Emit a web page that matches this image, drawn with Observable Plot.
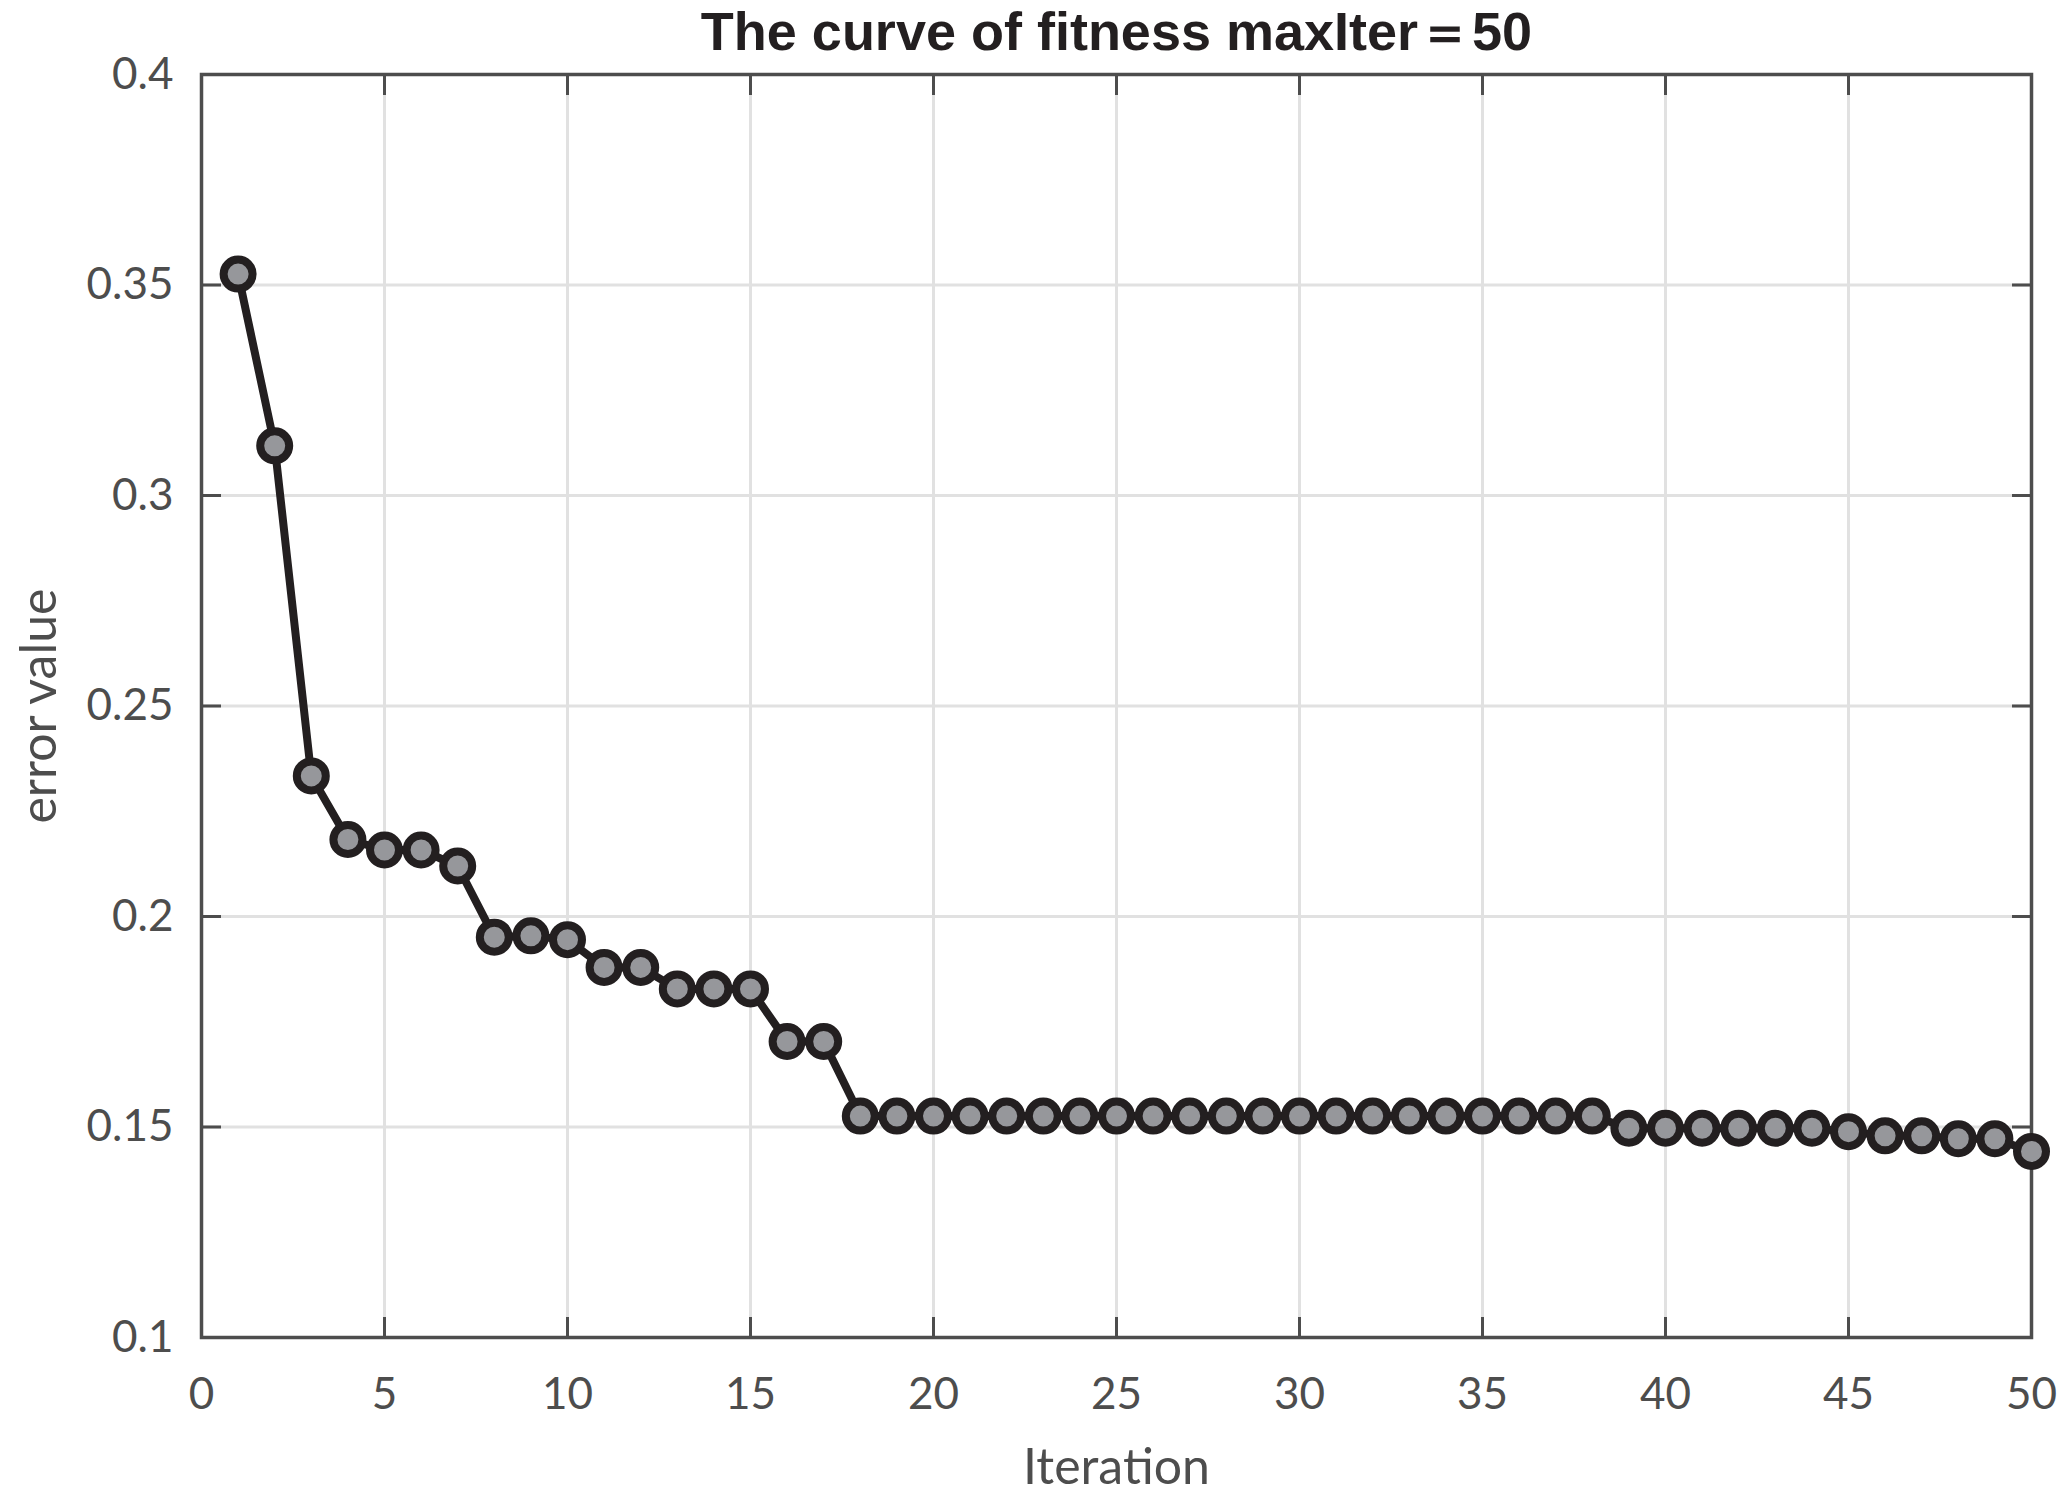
<!DOCTYPE html>
<html>
<head>
<meta charset="utf-8">
<script src="https://cdn.jsdelivr.net/npm/d3@7"></script>
<script src="https://cdn.jsdelivr.net/npm/@observablehq/plot@0.6"></script>
<style>
  html, body { margin: 0; padding: 0; background: #fff; }
  #chart svg { display: block; }
</style>
</head>
<body>
<div id="chart"></div>
<script>
const titleText = "The curve of fitness maxIter＝50";
const xLabel = "Iteration";
const yLabel = "error value";

const iterations = [1,2,3,4,5,6,7,8,9,10,11,12,13,14,15,16,17,18,19,20,21,22,23,24,25,
  26,27,28,29,30,31,32,33,34,35,36,37,38,39,40,41,42,43,44,45,46,47,48,49,50];
const errorValues = [
  0.3526, 0.3118, 0.2334, 0.2183, 0.2158, 0.2158, 0.2120, 0.1951, 0.1954, 0.1945,
  0.1879, 0.1879, 0.1828, 0.1828, 0.1828, 0.1703, 0.1703, 0.1526, 0.1526, 0.1526,
  0.1526, 0.1526, 0.1526, 0.1526, 0.1526, 0.1526, 0.1526, 0.1526, 0.1526, 0.1526,
  0.1526, 0.1526, 0.1526, 0.1526, 0.1526, 0.1526, 0.1526, 0.1526, 0.1497, 0.1497,
  0.1497, 0.1497, 0.1497, 0.1497, 0.1489, 0.1479, 0.1479, 0.1472, 0.1472, 0.1442
];
const xTicks = [0, 5, 10, 15, 20, 25, 30, 35, 40, 45, 50];
const yTicks = [0.1, 0.15, 0.2, 0.25, 0.3, 0.35, 0.4];
const yTickLabels = ["0.1", "0.15", "0.2", "0.25", "0.3", "0.35", "0.4"];

const data = iterations.map((it, i) => ({iteration: it, error: errorValues[i]}));

const axisColor = "#4d4d4d";
const gridColor = "#e1e1e1";
const lineColor = "#231f20";
const dotFill = "#96979b";
const tickFont = "Lato, 'Open Sans', sans-serif";

const chart = Plot.plot({
  width: 2071,
  height: 1497,
  marginLeft: 201,
  marginRight: 40,
  marginTop: 74,
  marginBottom: 160,
  style: {background: "#fff", fontFamily: tickFont, color: axisColor},
  x: {domain: [0, 50]},
  y: {domain: [0.1, 0.4]},
  marks: [
    Plot.gridX(xTicks, {stroke: gridColor, strokeOpacity: 1, strokeWidth: 3}),
    Plot.gridY(yTicks, {stroke: gridColor, strokeOpacity: 1, strokeWidth: 3}),
    // tick labels
    Plot.axisX(xTicks, {anchor: "bottom", tickSize: 0, tickPadding: 40, fontSize: 44, fill: axisColor, label: null}),
    Plot.axisY(yTicks, {anchor: "left", tickSize: 0, tickPadding: 28, fontSize: 44, fill: axisColor, label: null,
      tickFormat: (d) => yTickLabels[yTicks.indexOf(d)]}),
    // inward ticks on all four sides
    Plot.axisX(xTicks, {anchor: "bottom", tickSize: -20, strokeWidth: 3, stroke: axisColor, tickFormat: () => "", label: null}),
    Plot.axisX(xTicks, {anchor: "top", tickSize: -20, strokeWidth: 3, stroke: axisColor, tickFormat: () => "", label: null}),
    Plot.axisY(yTicks, {anchor: "left", tickSize: -20, strokeWidth: 3, stroke: axisColor, tickFormat: () => "", label: null}),
    Plot.axisY(yTicks, {anchor: "right", tickSize: -20, strokeWidth: 3, stroke: axisColor, tickFormat: () => "", label: null}),
    Plot.frame({stroke: axisColor, strokeWidth: 3.5}),
    Plot.line(data, {x: "iteration", y: "error", stroke: lineColor, strokeWidth: 8, strokeLinejoin: "round"}),
    Plot.dot(data, {x: "iteration", y: "error", r: 14.5, fill: dotFill, stroke: lineColor, strokeWidth: 8}),
    // title and axis labels
    Plot.text([titleText], {frameAnchor: "top", dy: -25, lineAnchor: "bottom", fontSize: 54, fontWeight: "bold",
      fontFamily: "'Liberation Sans Narrow', 'Liberation Sans', Arial, sans-serif", fill: "#231f20"}),
    Plot.text([xLabel], {frameAnchor: "bottom", dy: 146, lineAnchor: "bottom", fontSize: 50, fill: axisColor}),
    Plot.text([yLabel], {frameAnchor: "left", dx: -162, rotate: -90, textAnchor: "middle", lineAnchor: "middle", fontSize: 50, fill: axisColor})
  ]
});
document.getElementById("chart").appendChild(chart);
</script>
</body>
</html>
